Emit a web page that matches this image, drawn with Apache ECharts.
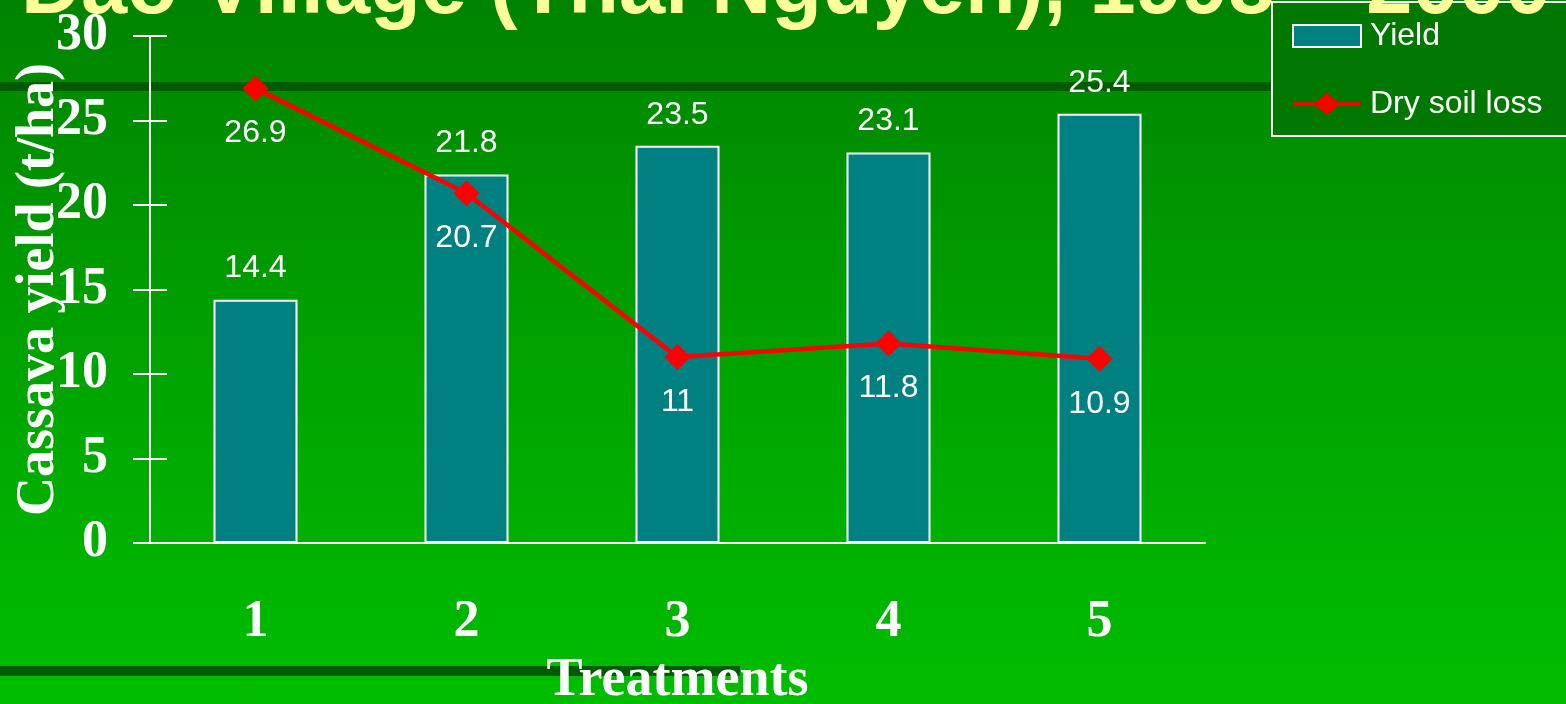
<!DOCTYPE html>
<html>
<head>
<meta charset="utf-8">
<script src="https://cdn.jsdelivr.net/npm/echarts@6/dist/echarts.min.js"></script>
<style>
  html, body { margin: 0; padding: 0; }
  #chart {
    width: 1566px; height: 704px;
    background: linear-gradient(to bottom, #008300 0%, #00a200 50%, #00bd00 100%);
  }
</style>
</head>
<body>
<div id="chart"></div>
<script>
  var titleText = 'Dao Village (Thai Nguyen), 1998 \u2013 2000';
  var treatments = ['1', '2', '3', '4', '5'];
  var yieldValues = [14.4, 21.8, 23.5, 23.1, 25.4];
  var soilLossValues = [26.9, 20.7, 11, 11.8, 10.9];

  var serif = '"Liberation Serif", "Times New Roman", serif';
  var sans = '"Liberation Sans", Arial, sans-serif';

  // legend icon for the line series: thick line with a diamond in the middle
  var lineIcon = 'path://M0,10 L23,10 L34,0 L45,10 L68,10 L68,14 L45,14 L34,24 L23,14 L0,14 Z';

  var myChart = echarts.init(document.getElementById('chart'));

  var option = {
    animation: false,
    backgroundColor: 'transparent',
    graphic: [
      // dark stripes of the slide background
      { type: 'rect', z: -10, shape: { x: 0, y: 82, width: 1566, height: 9 }, style: { fill: '#005a00' } },
      { type: 'rect', z: -10, shape: { x: 0, y: 666, width: 740, height: 10 }, style: { fill: '#005a00' } },
      {
        type: 'text', z: 100, x: 786, y: -10,
        style: {
          text: titleText,
          fill: '#ffff99',
          font: 'bold 83px ' + sans,
          textAlign: 'center',
          textVerticalAlign: 'middle',
          textShadowColor: '#000',
          textShadowOffsetX: 4,
          textShadowOffsetY: 4,
          textShadowBlur: 0
        }
      }
    ],
    legend: {
      orient: 'vertical',
      left: 1272,
      top: 2,
      padding: [16, 80, 14, 20],
      itemGap: 32,
      itemWidth: 68,
      itemHeight: 22,
      symbolKeepAspect: false,
      backgroundColor: '#007800',
      borderColor: '#ffffff',
      borderWidth: 2,
      borderRadius: 0,
      textStyle: { color: '#ffffff', fontSize: 32, fontFamily: sans, lineHeight: 36, padding: [0, 0, 0, 4] },
      data: [
        { name: 'Yield', icon: 'rect' },
        { name: 'Dry soil loss', icon: lineIcon }
      ]
    },
    grid: {
      left: 150,
      right: 361,
      top: 36,
      bottom: 161,
      containLabel: false,
      outerBoundsMode: 'none'
    },
    xAxis: [{
      type: 'category',
      data: treatments,
      position: 'bottom',
      name: 'Treatments',
      nameLocation: 'middle',
      nameGap: 111,
      nameMoveOverlap: false,
      nameTextStyle: { color: '#fff', fontSize: 54, fontWeight: 'bold', fontFamily: serif },
      axisLine: { lineStyle: { color: '#fff', width: 2 } },
      axisTick: { length: 17, lineStyle: { color: '#fff', width: 2 } },
      axisLabel: { color: '#fff', fontSize: 52, fontWeight: 'bold', fontFamily: serif, margin: 54 },
      splitLine: { show: false }
    }, {
      type: 'category',
      data: treatments,
      position: 'bottom',
      offset: 0,
      axisLine: { show: false },
      axisTick: { inside: true, length: 17, lineStyle: { color: '#fff', width: 2 } },
      axisLabel: { show: false },
      splitLine: { show: false }
    }],
    yAxis: [{
      type: 'value',
      min: 0,
      max: 30,
      interval: 5,
      position: 'left',
      name: 'Cassava yield (t/ha)',
      nameLocation: 'middle',
      nameGap: 84,
      nameMoveOverlap: false,
      nameTextStyle: { color: '#fff', fontSize: 54, fontWeight: 'bold', fontFamily: serif },
      axisLine: { show: true, lineStyle: { color: '#fff', width: 2 } },
      axisTick: { show: true, length: 17, lineStyle: { color: '#fff', width: 2 } },
      axisLabel: { color: '#fff', fontSize: 52, fontWeight: 'bold', fontFamily: serif, margin: 42 },
      splitLine: { show: false }
    }, {
      type: 'value',
      min: 0,
      max: 30,
      interval: 5,
      position: 'left',
      offset: 0,
      axisLine: { show: false },
      axisTick: { show: true, inside: true, length: 17, lineStyle: { color: '#fff', width: 2 } },
      axisLabel: { show: false },
      splitLine: { show: false }
    }],
    series: [{
      name: 'Yield',
      type: 'bar',
      data: yieldValues,
      barWidth: 84,
      itemStyle: { color: '#008080', borderColor: '#ffffff', borderWidth: 2 },
      label: {
        show: true,
        position: 'top',
        distance: 15,
        color: '#fff',
        fontSize: 32,
        fontFamily: sans
      },
      z: 2
    }, {
      name: 'Dry soil loss',
      type: 'line',
      data: soilLossValues,
      symbol: 'diamond',
      symbolSize: 26,
      lineStyle: { color: '#ff0000', width: 4.5 },
      itemStyle: { color: '#ff0000' },
      label: {
        show: true,
        position: 'bottom',
        distance: 16,
        color: '#fff',
        fontSize: 32,
        fontFamily: sans
      },
      z: 3
    }]
  };

  myChart.setOption(option, true);
</script>
</body>
</html>
